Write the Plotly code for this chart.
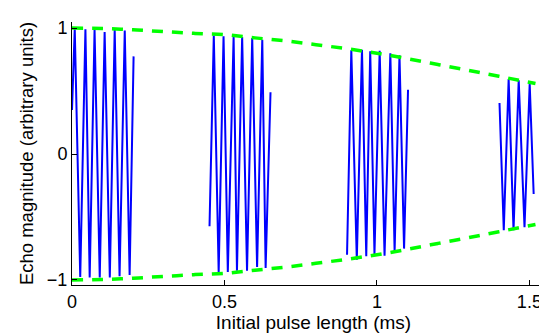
import plotly.graph_objects as go

# Echo bursts (vertices): time in ms, magnitude
burst1_t = [0.000, 0.009, 0.027, 0.044, 0.058, 0.074, 0.091, 0.107, 0.124, 0.140, 0.156, 0.173, 0.189, 0.202]
burst1_v = [0.35, 0.994, -0.976, 0.99, -0.98, 0.987, -0.98, 0.968, -0.98, 0.987, -0.97, 0.98, -0.96, 0.775]

burst2_t = [0.451, 0.465, 0.481, 0.497, 0.511, 0.530, 0.541, 0.558, 0.574, 0.591, 0.607, 0.624, 0.635, 0.651]
burst2_v = [-0.574, 0.94, -0.937, 0.934, -0.937, 0.929, -0.926, 0.929, -0.926, 0.92, -0.897, 0.907, -0.905, 0.49]

burst3_t = [0.902, 0.916, 0.934, 0.951, 0.965, 0.978, 0.992, 1.009, 1.025, 1.044, 1.058, 1.074, 1.089, 1.102]
burst3_v = [-0.80, 0.823, -0.839, 0.828, -0.812, 0.815, -0.794, 0.82, -0.807, 0.80, -0.772, 0.783, -0.751, 0.51]

burst4_t = [1.402, 1.416, 1.432, 1.448, 1.465, 1.484, 1.501, 1.514]
burst4_v = [0.405, -0.606, 0.595, -0.606, 0.585, -0.582, 0.558, -0.317]

# Envelope
env_t = [0.0, 0.1, 0.2, 0.3, 0.4, 0.5, 0.6, 0.7, 0.8, 0.9, 1.0, 1.1, 1.2, 1.3, 1.4, 1.52]
env_upper = [1.0, 0.996, 0.986, 0.972, 0.958, 0.947, 0.922, 0.898, 0.868, 0.836, 0.80, 0.757, 0.71, 0.664, 0.617, 0.56]
env_lower = [-1.0, -0.996, -0.986, -0.972, -0.958, -0.947, -0.922, -0.898, -0.868, -0.836, -0.80, -0.757, -0.71, -0.664, -0.617, -0.56]

x_ticks = [0, 0.5, 1, 1.5]
x_tick_labels = ["0", "0.5", "1", "1.5"]
y_ticks = [-1, 0, 1]
y_tick_labels = ["\u22121", "0", "1"]

blue = "#0000FF"
green = "#00FF00"

fig = go.Figure()
for t, v in [(burst1_t, burst1_v), (burst2_t, burst2_v), (burst3_t, burst3_v), (burst4_t, burst4_v)]:
    fig.add_trace(go.Scatter(x=t, y=v, mode="lines", line=dict(color=blue, width=2),
                             showlegend=False, hoverinfo="skip"))
for env in (env_upper, env_lower):
    fig.add_trace(go.Scatter(x=env_t, y=env, mode="lines", line_shape="spline",
                             line=dict(color=green, width=3.5, dash="11px,9px"),
                             showlegend=False, hoverinfo="skip"))

font_family = "Liberation Sans, Arial, Helvetica, sans-serif"
fig.update_layout(
    width=547, height=334,
    margin=dict(l=64, r=0, t=14, b=57),
    plot_bgcolor="white", paper_bgcolor="white",
    font=dict(family=font_family, size=18, color="black"),
    xaxis=dict(range=[0, 1.584], tickvals=x_ticks, ticktext=x_tick_labels,
               showline=True, linecolor="black", linewidth=1, mirror=False,
               ticks="inside", ticklen=5, tickcolor="black", showgrid=False, zeroline=False,
               title=dict(text="Initial pulse length (ms)", font=dict(size=19), standoff=4)),
    yaxis=dict(range=[-1.04, 1.048], tickvals=y_ticks, ticktext=y_tick_labels,
               showline=True, linecolor="black", linewidth=1, mirror=False,
               ticks="inside", ticklen=5, tickcolor="black", showgrid=False, zeroline=False,
               title=dict(text="Echo magnitude (arbitrary units)", font=dict(size=18.5), standoff=8)),
)
fig.write_html("out.html")
